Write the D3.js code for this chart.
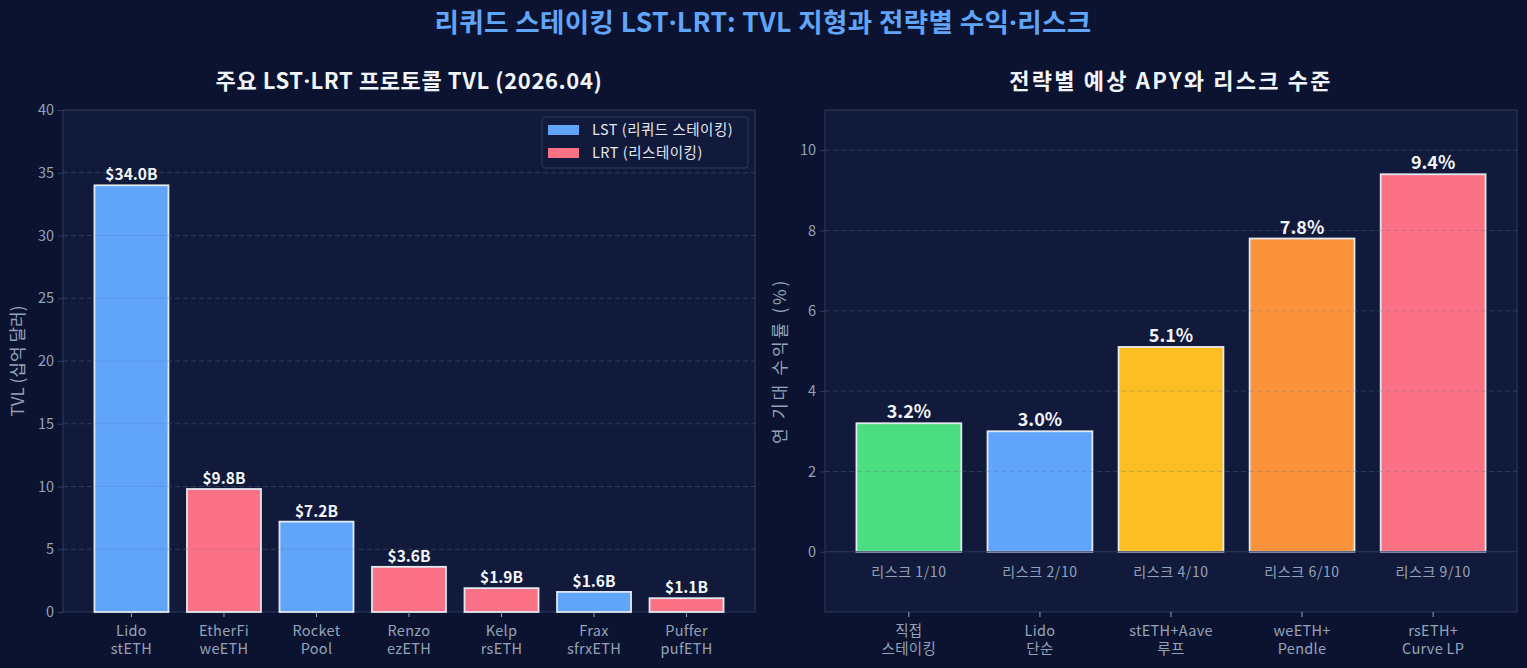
<!DOCTYPE html>
<html><head><meta charset="utf-8">
<script src="https://cdn.jsdelivr.net/npm/d3@7"></script>
<style>
html,body{margin:0;padding:0;background:#0b1330;}
svg{display:block;}
text{font-family:"Noto Sans CJK KR","Noto Sans",sans-serif;}
</style></head>
<body><svg id="chart" width="1527" height="668"></svg>
<script>
// ---- data ----
const protocols = ["Lido\nstETH","EtherFi\nweETH","Rocket\nPool","Renzo\nezETH","Kelp\nrsETH","Frax\nsfrxETH","Puffer\npufETH"];
const tvl = [34.0, 9.8, 7.2, 3.6, 1.9, 1.6, 1.1];
const protocolType = ["LST","LRT","LST","LRT","LRT","LST","LRT"];
const tvlTicks = [0,5,10,15,20,25,30,35,40];
const legendLabels = ["LST (리퀴드 스테이킹)","LRT (리스테이킹)"];

const strategies = ["직접\n스테이킹","Lido\n단순","stETH+Aave\n루프","weETH+\nPendle","rsETH+\nCurve LP"];
const apy = [3.2, 3.0, 5.1, 7.8, 9.4];
const risk = [1, 2, 4, 6, 9];
const apyTicks = [0,2,4,6,8,10];

const colors = {LST:"#60a5fa", LRT:"#fb7185"};
const stratColors = ["#4ade80","#60a5fa","#fbbf24","#fb923c","#fb7185"];

const svg = d3.select("#chart");
const axesBg = "#111a3b", spine = "#2c3a5c", tickCol = "#94a3b8";

// write text, rendering the middle dot with a narrow latin glyph
function richText(sel, str){
  str.split(/(·)/).forEach(part=>{
    if(!part) return;
    const t = sel.append("tspan").text(part);
    if(part==="·") t.attr("font-family","'Noto Sans',sans-serif");
  });
  return sel;
}

svg.append("rect").attr("width",1527).attr("height",668).attr("fill","#0b1330");

richText(svg.append("text").attr("x",763).attr("y",32).attr("text-anchor","middle")
  .attr("fill","#60a5fa").attr("font-size",26.5).attr("font-weight","bold").attr("letter-spacing",0.4),
  "리퀴드 스테이킹 LST·LRT: TVL 지형과 전략별 수익·리스크");

function panel(opt){
  const {x0,x1,y0,y1,cats,vals,fills,ydom,ticks,title,titleLS,ylabel,ylabelSize,ylabelLS,fmt,labelSize} = opt;
  const g = svg.append("g");
  g.append("rect").attr("x",x0).attr("y",y0).attr("width",x1-x0).attr("height",y1-y0)
    .attr("fill",axesBg).attr("stroke",spine).attr("stroke-width",1);
  const n = cats.length;
  const x = d3.scaleBand().domain(d3.range(n)).range([x0,x1])
    .paddingInner(0.2).paddingOuter(0.05*(n-0.2));
  const y = d3.scaleLinear().domain(ydom).range([y1,y0]);
  // bars
  g.selectAll(".bar").data(vals).enter().append("rect")
    .attr("x",(d,i)=>x(i)).attr("width",x.bandwidth())
    .attr("y",d=>y(d)).attr("height",d=>y(0)-y(d))
    .attr("fill",(d,i)=>fills[i]).attr("stroke","#e2e8f0").attr("stroke-width",1.8);
  // grid on top
  g.selectAll(".grid").data(ticks.filter(t=>t>ydom[0] && t<ydom[1] && t!==0)).enter().append("line")
    .attr("x1",x0).attr("x2",x1).attr("y1",d=>y(d)).attr("y2",d=>y(d))
    .attr("stroke","#64748b").attr("stroke-opacity",0.35).attr("stroke-dasharray","5,3").attr("stroke-width",1);
  // value labels
  g.selectAll(".vl").data(vals).enter().append("text")
    .attr("x",(d,i)=>x(i)+x.bandwidth()/2).attr("y",d=>y(d)-5)
    .attr("text-anchor","middle").attr("fill","#f1f5f9").attr("font-weight","bold").attr("font-size",labelSize)
    .text(fmt);
  // y axis
  const ya = d3.axisLeft(y).tickValues(ticks).tickSize(5).tickPadding(4);
  const yg = g.append("g").attr("transform",`translate(${x0},0)`).call(ya);
  yg.select(".domain").remove();
  yg.selectAll(".tick line").attr("stroke",spine);
  yg.selectAll(".tick text").attr("fill",tickCol).attr("font-size",14.5).attr("font-family","'Noto Sans CJK KR',sans-serif");
  // x axis
  const xa = d3.axisBottom(x).tickSize(5).tickFormat("");
  const xg = g.append("g").attr("transform",`translate(0,${y1})`).call(xa);
  xg.select(".domain").remove();
  xg.selectAll(".tick line").attr("stroke",tickCol);
  cats.forEach((c,i)=>{
    const t = g.append("text").attr("x",x(i)+x.bandwidth()/2).attr("y",y1+24)
      .attr("text-anchor","middle").attr("fill",tickCol).attr("font-size",14.5).attr("letter-spacing",0.3);
    c.split("\n").forEach((line,k)=>t.append("tspan").attr("x",x(i)+x.bandwidth()/2).attr("dy",k?18:0).text(line));
  });
  // title
  richText(g.append("text").attr("x",(x0+x1)/2).attr("y",y0-21).attr("text-anchor","middle")
    .attr("fill","#f1f5f9").attr("font-weight","bold").attr("font-size",22).attr("letter-spacing",titleLS), title);
  // y label
  g.append("text").attr("transform",`translate(${x0-39},${(y0+y1)/2}) rotate(-90)`)
    .attr("text-anchor","middle").attr("fill",tickCol).attr("font-size",ylabelSize).attr("letter-spacing",ylabelLS).text(ylabel);
  return {g,x,y};
}

const left = panel({x0:63,x1:755,y0:110,y1:612,cats:protocols,vals:tvl,
  fills:protocolType.map(t=>colors[t]),ydom:[0,40],ticks:tvlTicks,
  title:"주요 LST·LRT 프로토콜 TVL (2026.04)",titleLS:0.6,ylabel:"TVL (십억 달러)",ylabelSize:17,ylabelLS:0,
  fmt:d=>`$${d.toFixed(1)}B`,labelSize:15.5});

const right = panel({x0:825,x1:1517,y0:110,y1:612,cats:strategies,vals:apy,
  fills:stratColors,ydom:[-1.5,11],ticks:apyTicks,
  title:"전략별 예상 APY와 리스크 수준",titleLS:2.2,ylabel:"연 기대 수익률 (%)",ylabelSize:17,ylabelLS:2.8,
  fmt:d=>`${d.toFixed(1)}%`,labelSize:18});

// risk labels
right.g.selectAll(".risk").data(risk).enter().append("text")
  .attr("x",(d,i)=>right.x(i)+right.x.bandwidth()/2).attr("y",right.y(-0.5))
  .attr("dy","0.35em").attr("text-anchor","middle").attr("fill",tickCol).attr("font-size",14).attr("letter-spacing",0.6)
  .text(d=>`리스크 ${d}/10`);
// zero line on right
right.g.append("line").attr("x1",825).attr("x2",1517).attr("y1",right.y(0)).attr("y2",right.y(0))
  .attr("stroke",spine).attr("stroke-width",1.2);

// legend
const lg = svg.append("g").attr("transform","translate(542,117)");
lg.append("rect").attr("width",206).attr("height",51).attr("rx",3)
  .attr("fill",axesBg).attr("stroke",spine);
legendLabels.forEach((l,i)=>{
  lg.append("rect").attr("x",6).attr("y",8+i*23).attr("width",31).attr("height",10).attr("fill",[colors.LST,colors.LRT][i]);
  lg.append("text").attr("x",50).attr("y",13+i*23).attr("dy","0.35em").attr("fill","#e2e8f0").attr("font-size",14.5).attr("letter-spacing",0.5).text(l);
});
</script></body></html>
